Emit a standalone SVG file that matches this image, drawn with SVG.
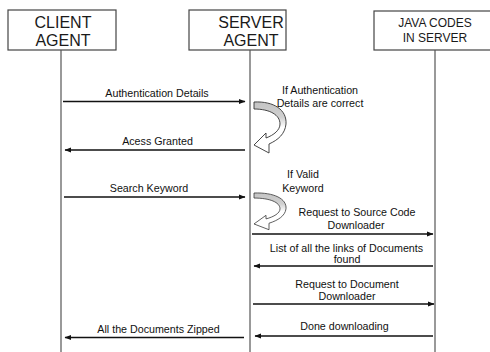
<svg xmlns="http://www.w3.org/2000/svg" width="490" height="352" viewBox="0 0 490 352">
<style>
.box{fill:#fff;stroke:#444;stroke-width:1.2}
.life{stroke:#555;stroke-width:1.2;fill:none}
.hd{font-family:"Liberation Sans",Arial,sans-serif;font-size:16px;fill:#1a1a1a;text-anchor:middle}
.hs{font-family:"Liberation Sans",Arial,sans-serif;font-size:12px;fill:#1a1a1a;text-anchor:middle}
.lb{font-family:"Liberation Sans",Arial,sans-serif;font-size:10.7px;fill:#111;text-anchor:middle}
.msg{stroke:#111;stroke-width:1.3;fill:none;marker-end:url(#ah)}
.turn{fill:url(#g);stroke:#333;stroke-width:0.9}
</style>
<defs>
<marker id="ah" markerWidth="7" markerHeight="6" refX="6" refY="3" orient="auto" markerUnits="userSpaceOnUse">
<path d="M0,0.5 L6.5,3 L0,5.5 Z" fill="#111"/>
</marker>
<linearGradient id="g" x1="0" y1="0" x2="0" y2="1">
<stop offset="0" stop-color="#c4c4c4"/>
<stop offset="0.3" stop-color="#d0d0d0"/>
<stop offset="0.5" stop-color="#fff"/>
<stop offset="1" stop-color="#fff"/>
</linearGradient>
</defs>
<g id="client">
<rect class="box" x="8" y="10" width="108" height="40"/>
<text class="hd" x="63" y="28">CLIENT</text>
<text class="hd" x="63" y="46">AGENT</text>
<line class="life" x1="61" y1="50" x2="61" y2="352"/>
</g>
<g id="server">
<rect class="box" x="189" y="10" width="97" height="40"/>
<text class="hd" x="251" y="28">SERVER</text>
<text class="hd" x="251" y="46">AGENT</text>
<line class="life" x1="250" y1="50" x2="250" y2="352"/>
</g>
<g id="java">
<rect class="box" x="374" y="11" width="120" height="39"/>
<text class="hs" x="435" y="27">JAVA CODES</text>
<text class="hs" x="435" y="42">IN SERVER</text>
<line class="life" x1="435" y1="50" x2="435" y2="352"/>
</g>
<g id="notes">
<path class="turn" transform="translate(254,102)" d="M0,0 C20,-1 33,8 32,22 C31,32 24,38 15,42 L15,51 L0,43 L12,31 L12,36 C20,33 26,28 26,22 C26,13 16,7 0,7 Z"/>
<text class="lb" x="320" y="94">If Authentication</text>
<text class="lb" x="320" y="106.5">Details are correct</text>
<path class="turn" transform="translate(254,193) scale(1,0.72)" d="M0,0 C20,-1 33,8 32,22 C31,32 24,38 15,42 L15,51 L0,43 L12,31 L12,36 C20,33 26,28 26,22 C26,13 16,7 0,7 Z"/>
<text class="lb" x="303" y="178">If Valid</text>
<text class="lb" x="303" y="192">Keyword</text>
</g>
<g id="connectors">
<line class="msg" x1="63" y1="101.5" x2="245" y2="101.5"/>
<text class="lb" x="157" y="97">Authentication Details</text>
<line class="msg" x1="245" y1="150" x2="65" y2="150"/>
<text class="lb" x="157.5" y="145">Acess Granted</text>
<line class="msg" x1="64" y1="197" x2="245" y2="197"/>
<text class="lb" x="149" y="192">Search Keyword</text>
<line class="msg" x1="252" y1="234" x2="433" y2="234"/>
<text class="lb" x="357" y="216">Request to Source Code</text>
<text class="lb" x="356" y="229">Downloader</text>
<line class="msg" x1="433" y1="266" x2="254" y2="266"/>
<text class="lb" x="346.5" y="252">List of all the links of Documents</text>
<text class="lb" x="347" y="263">found</text>
<line class="msg" x1="253" y1="304" x2="434" y2="304"/>
<text class="lb" x="347" y="288">Request to Document</text>
<text class="lb" x="347" y="300">Downloader</text>
<line class="msg" x1="433" y1="336" x2="255" y2="336"/>
<text class="lb" x="344.5" y="330">Done downloading</text>
<line class="msg" x1="244" y1="337.5" x2="65" y2="337.5"/>
<text class="lb" x="158.5" y="333">All the Documents Zipped</text>
</g>
</svg>
